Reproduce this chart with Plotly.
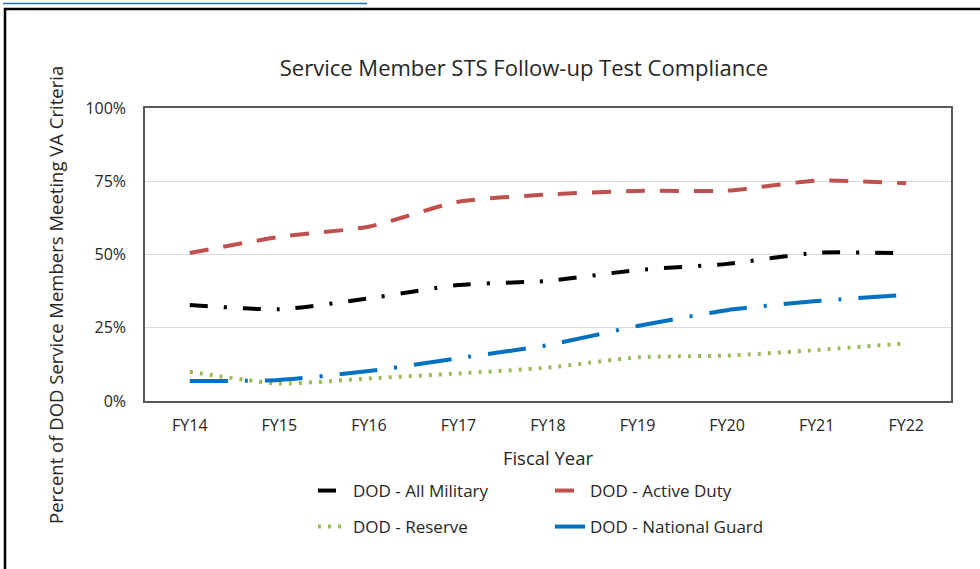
import plotly.graph_objects as go

years = ["FY14", "FY15", "FY16", "FY17", "FY18", "FY19", "FY20", "FY21", "FY22"]
all_military = [0.328, 0.313, 0.350, 0.396, 0.410, 0.447, 0.468, 0.506, 0.504]
active_duty = [0.505, 0.560, 0.595, 0.680, 0.705, 0.717, 0.718, 0.752, 0.743]
reserve = [0.100, 0.060, 0.077, 0.094, 0.114, 0.149, 0.155, 0.174, 0.197]
national_guard = [0.068, 0.072, 0.102, 0.146, 0.191, 0.256, 0.310, 0.341, 0.362]
y_ticks = [0, 0.25, 0.5, 0.75, 1.0]
y_tick_labels = ["0%", "25%", "50%", "75%", "100%"]

FONT = "Open Sans"
TXT = "#262626"
W, H = 980, 569
L, R, T, B = 145, 29, 108, 168
PW, PH = W - L - R, H - T - B


def px(x):
    return (x - L) / PW


def py(y):
    return (H - B - y) / PH


fig = go.Figure()
series = [
    ("DOD - All Military", all_military, "#000000", "18px,16px,3px,16px", "legend"),
    ("DOD - Active Duty", active_duty, "#C0504D", "19px,15px", "legend"),
    ("DOD - Reserve", reserve, "#9BBB59", "3px,7px", "legend2"),
    ("DOD - National Guard", national_guard, "#0070C0", "38px,17px,3px,17px", "legend2"),
]
for name, vals, color, dash, leg in series:
    fig.add_trace(go.Scatter(
        x=years, y=vals, name=name, mode="lines",
        line=dict(color=color, width=4, dash=dash, shape="spline", smoothing=0.6),
        legend=leg,
    ))

fig.update_layout(
    width=W, height=H,
    margin=dict(l=L, r=R, t=T, b=B),
    paper_bgcolor="white", plot_bgcolor="white",
    font=dict(family=FONT, color=TXT, size=14),
    title=dict(text="Service Member STS Follow-up Test Compliance",
               x=px(524), xref="paper", xanchor="center",
               y=1 - 68 / H, yanchor="middle",
               font=dict(size=22, color=TXT, family=FONT)),
    xaxis=dict(
        type="category", range=[-0.5, 8.5], showgrid=False, showline=True, mirror=True,
        linecolor="#595959", linewidth=1.5, ticks="", ticklabelstandoff=9,
        tickfont=dict(size=16, color=TXT),
        title=dict(text="Fiscal Year", font=dict(size=18.5, color=TXT), standoff=17),
    ),
    yaxis=dict(
        range=[0, 1], tickvals=y_ticks, ticktext=y_tick_labels,
        showgrid=True, gridcolor="#D9D9D9", gridwidth=1.2,
        showline=True, mirror=True, linecolor="#595959", linewidth=1.5,
        ticks="", ticklabelstandoff=14, zeroline=False,
        tickfont=dict(size=16, color=TXT),
    ),
    legend=dict(orientation="h", x=px(313), y=py(491), xanchor="left", yanchor="middle",
                entrywidth=192, font=dict(size=17, color=TXT), bgcolor="rgba(0,0,0,0)"),
    legend2=dict(orientation="h", x=px(313), y=py(527), xanchor="left", yanchor="middle",
                 entrywidth=192, font=dict(size=17, color=TXT), bgcolor="rgba(0,0,0,0)"),
    showlegend=True,
)

fig.add_annotation(
    text="Percent of DOD Service Members Meeting VA Criteria",
    xref="paper", yref="paper", x=px(55), y=py(295),
    textangle=-90, showarrow=False, xanchor="center", yanchor="middle",
    font=dict(size=18.5, color=TXT, family=FONT),
)

# chart frame and cropped hyperlink underline
fig.add_shape(type="rect", xref="paper", yref="paper",
              x0=px(5), x1=px(1000), y0=py(9), y1=py(600),
              line=dict(color="#000000", width=2.5), layer="below")
fig.add_shape(type="line", xref="paper", yref="paper",
              x0=px(3), x1=px(367), y0=py(3.5), y1=py(3.5),
              line=dict(color="#1F6FC5", width=1.5))

fig.write_html("out.html", config={"displayModeBar": False},
               post_script="document.body.style.margin='0';document.body.style.overflow='hidden';")
